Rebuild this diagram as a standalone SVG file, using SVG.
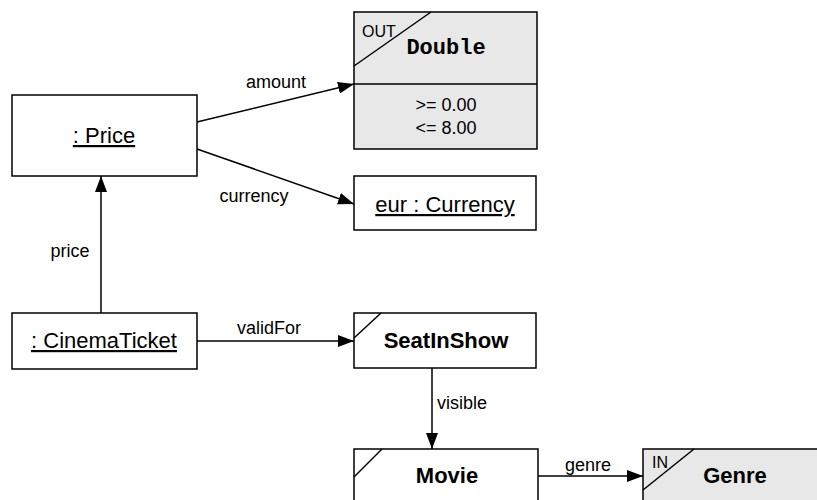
<svg xmlns="http://www.w3.org/2000/svg" width="817" height="500" viewBox="0 0 817 500">
<defs>
<marker id="arr" markerWidth="16" markerHeight="12" refX="16" refY="6" orient="auto" markerUnits="userSpaceOnUse">
<path d="M0,0 L16,6 L0,12 Z" fill="#000"/>
</marker>
<style>
.box{fill:#fff;stroke:#000;stroke-width:1.5}
.grey{fill:#e8e8e8;stroke:#000;stroke-width:1.5}
.ln{stroke:#000;stroke-width:1.5;fill:none}
.edge{stroke:#000;stroke-width:1.5;fill:none;marker-end:url(#arr)}
.t{font-family:"Liberation Sans",Arial,sans-serif;font-size:22px;text-anchor:middle;fill:#000}
.u{text-decoration:underline}
.b{font-weight:bold}
.lbl{font-family:"Liberation Sans",Arial,sans-serif;font-size:18px;fill:#000}
.sm{font-family:"Liberation Sans",Arial,sans-serif;font-size:16px;fill:#000}
.mono{font-family:"Liberation Mono","Courier New",monospace;font-size:22px;font-weight:bold;text-anchor:middle}
</style>
</defs>
<g id="connectors">
<line class="edge" x1="197" y1="122" x2="354" y2="84"/>
<text class="lbl" x="276" y="88" text-anchor="middle">amount</text>
<line class="edge" x1="197" y1="149" x2="354" y2="204"/>
<text class="lbl" x="254" y="202" text-anchor="middle">currency</text>
<line class="edge" x1="101" y1="313" x2="101" y2="176"/>
<text class="lbl" x="70" y="257" text-anchor="middle">price</text>
<line class="edge" x1="197" y1="341" x2="354" y2="341"/>
<text class="lbl" x="269" y="334" text-anchor="middle">validFor</text>
<line class="edge" x1="432" y1="368" x2="432" y2="449"/>
<text class="lbl" x="437" y="409">visible</text>
<line class="edge" x1="538" y1="476" x2="643" y2="476"/>
<text class="lbl" x="588" y="471" text-anchor="middle">genre</text>
</g>
<g id="price">
<rect class="box" x="12" y="95" width="185" height="81"/>
<text class="t u" x="104" y="143">: Price</text>
</g>
<g id="double">
<rect class="grey" x="354" y="12" width="183" height="137"/>
<line class="ln" x1="354" y1="84" x2="537" y2="84"/>
<line class="ln" x1="354" y1="66" x2="431" y2="12"/>
<text class="sm" x="362" y="37">OUT</text>
<text class="mono" x="446" y="54">Double</text>
<text class="lbl" x="446" y="111" text-anchor="middle">&gt;= 0.00</text>
<text class="lbl" x="446" y="134" text-anchor="middle">&lt;= 8.00</text>
</g>
<g id="currency">
<rect class="box" x="354" y="176" width="182" height="54"/>
<text class="t u" x="445" y="212">eur : Currency</text>
</g>
<g id="cinematicket">
<rect class="box" x="12" y="313" width="185" height="56"/>
<text class="t u" x="104" y="348">: CinemaTicket</text>
</g>
<g id="seatinshow">
<rect class="box" x="354" y="313" width="182" height="55"/>
<line class="ln" x1="354" y1="338" x2="381" y2="313"/>
<text class="t b" x="446" y="348">SeatInShow</text>
</g>
<g id="movie">
<rect class="box" x="354" y="449" width="184" height="60"/>
<line class="ln" x1="354" y1="477" x2="382" y2="449"/>
<text class="t b" x="447" y="483">Movie</text>
</g>
<g id="genre">
<rect class="grey" x="643" y="449" width="184" height="60"/>
<line class="ln" x1="643" y1="490" x2="694" y2="449"/>
<text class="sm" x="652" y="468">IN</text>
<text class="t b" x="735" y="483">Genre</text>
</g>
</svg>
